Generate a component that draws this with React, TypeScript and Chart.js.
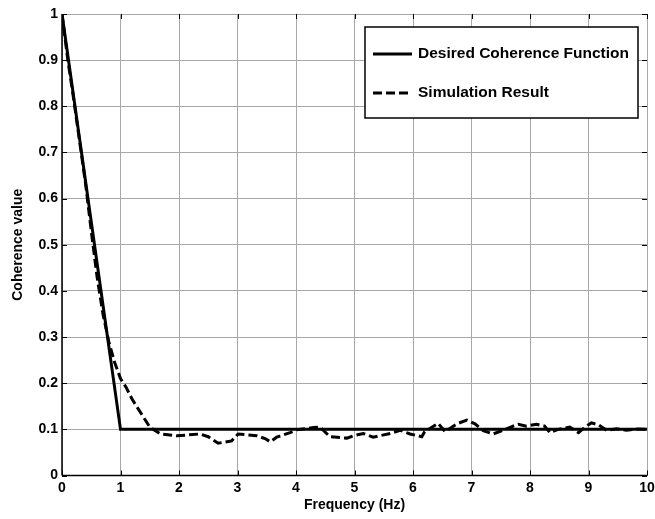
import React, { useEffect, useRef } from "react";
import { Chart, registerables } from "chart.js";

Chart.register(...registerables);

const desiredX = [0, 1, 10];
const desiredY = [1, 0.1, 0.1];

const simX = [0, 0.1, 0.2, 0.3, 0.4, 0.5, 0.6, 0.7, 0.8, 0.9, 1.0, 1.1, 1.2, 1.3, 1.4, 1.5, 1.68, 1.96, 2.36, 2.5, 2.67, 2.9, 3.01, 3.33, 3.47, 3.56, 3.67, 3.9, 4.01, 4.3, 4.41, 4.58, 4.87, 4.98, 5.15, 5.32, 5.61, 5.78, 5.95, 6.15, 6.2, 6.43, 6.55, 6.75, 6.92, 7.06, 7.2, 7.37, 7.54, 7.71, 7.8, 7.94, 8.11, 8.25, 8.34, 8.48, 8.68, 8.83, 8.94, 9.05, 9.17, 9.31, 9.48, 9.65, 9.82, 10];
const simY = [1, 0.9, 0.815, 0.725, 0.635, 0.53, 0.43, 0.35, 0.29, 0.245, 0.21, 0.19, 0.165, 0.145, 0.125, 0.105, 0.09, 0.086, 0.09, 0.084, 0.07, 0.075, 0.09, 0.086, 0.08, 0.073, 0.083, 0.093, 0.099, 0.104, 0.105, 0.084, 0.081, 0.086, 0.091, 0.083, 0.091, 0.098, 0.09, 0.084, 0.095, 0.113, 0.095, 0.112, 0.12, 0.112, 0.097, 0.09, 0.098, 0.107, 0.111, 0.107, 0.111, 0.107, 0.093, 0.1, 0.105, 0.093, 0.105, 0.114, 0.11, 0.098, 0.101, 0.098, 0.101, 0.1];

const seriesLabels = ["Desired Coherence Function", "Simulation Result"];
const xTitle = "Frequency (Hz)";
const yTitle = "Coherence value";

const FONT = "'Liberation Sans', Arial, sans-serif";

const boxPlugin = {
  id: "boxAndTicks",
  afterDatasetsDraw(chart: any) {
    const { ctx, chartArea: a, scales } = chart;
    ctx.save();
    ctx.strokeStyle = "#000";
    ctx.lineWidth = 1;
    ctx.beginPath();
    const xs = scales.x, ys = scales.y;
    for (let v = 0; v <= 10; v++) {
      const px = Math.round(xs.getPixelForValue(v)) + 0.5;
      ctx.moveTo(px, a.bottom); ctx.lineTo(px, a.bottom - 5);
      ctx.moveTo(px, a.top); ctx.lineTo(px, a.top + 5);
    }
    for (let i = 0; i <= 10; i++) {
      const py = Math.round(ys.getPixelForValue(i / 10)) + 0.5;
      ctx.moveTo(a.left, py); ctx.lineTo(a.left + 5, py);
      ctx.moveTo(a.right, py); ctx.lineTo(a.right - 5, py);
    }
    ctx.stroke();
    ctx.lineWidth = 1.5;
    ctx.beginPath();
    ctx.moveTo(a.left, a.bottom);
    ctx.lineTo(a.right, a.bottom);
    ctx.moveTo(a.left, a.bottom);
    ctx.lineTo(a.left, a.top);
    ctx.stroke();
    ctx.restore();
  },
  afterDraw(chart: any) {
    const { ctx } = chart;
    ctx.save();
    const L = 365, T = 27, R = 638, B = 118;
    ctx.fillStyle = "#fff";
    ctx.fillRect(L, T, R - L, B - T);
    ctx.strokeStyle = "#000";
    ctx.lineWidth = 1.5;
    ctx.strokeRect(L, T, R - L, B - T);
    ctx.lineWidth = 3;
    ctx.beginPath();
    ctx.moveTo(373, 54); ctx.lineTo(412, 54);
    ctx.stroke();
    ctx.setLineDash([9, 4]);
    ctx.beginPath();
    ctx.moveTo(373, 93); ctx.lineTo(412, 93);
    ctx.stroke();
    ctx.setLineDash([]);
    ctx.fillStyle = "#000";
    ctx.font = `bold 15.5px ${FONT}`;
    ctx.textBaseline = "middle";
    ctx.textAlign = "left";
    ctx.fillText(seriesLabels[0], 418, 54);
    ctx.fillText(seriesLabels[1], 418, 93);
    ctx.restore();
  },
};

export default function App() {
  const ref = useRef<HTMLCanvasElement>(null);
  useEffect(() => {
    if (!ref.current) return;
    const chart = new Chart(ref.current, {
      type: "scatter",
      data: {
        datasets: [
          {
            label: seriesLabels[0],
            data: desiredX.map((x, i) => ({ x, y: desiredY[i] })),
            showLine: true,
            borderColor: "#000",
            borderWidth: 3,
            pointRadius: 0,
            fill: false,
          },
          {
            label: seriesLabels[1],
            data: simX.map((x, i) => ({ x, y: simY[i] })),
            showLine: true,
            borderColor: "#000",
            borderWidth: 3,
            borderDash: [9, 4],
            pointRadius: 0,
            fill: false,
          },
        ],
      },
      options: {
        animation: false,
        responsive: false,
        maintainAspectRatio: false,
        layout: { padding: { left: 0, top: 14, right: 8, bottom: 0 } },
        plugins: { legend: { display: false }, tooltip: { enabled: false } },
        scales: {
          x: {
            type: "linear",
            min: 0,
            max: 10,
            ticks: { stepSize: 1, color: "#000", font: { family: FONT, size: 14, weight: "bold" }, padding: 4, maxRotation: 0 },
            grid: { color: "#a8a8a8", lineWidth: 1, drawTicks: false },
            border: { display: false },
            title: { display: true, text: xTitle, color: "#000", font: { family: FONT, size: 14, weight: "bold" }, padding: { top: 0, bottom: 5 } },
            afterFit: (s: any) => { s.height = 43.5; s.paddingLeft = 0; s.paddingRight = 0; },
          },
          y: {
            type: "linear",
            min: 0,
            max: 1,
            ticks: { stepSize: 0.1, color: "#000", font: { family: FONT, size: 14, weight: "bold" }, padding: 4, callback: (v: any) => String(Math.round(v * 10) / 10) },
            grid: { color: "#a8a8a8", lineWidth: 1, drawTicks: false },
            border: { display: false },
            title: { display: true, text: yTitle, color: "#000", font: { family: FONT, size: 14, weight: "bold" }, padding: { top: 10, bottom: 0 } },
            afterFit: (s: any) => { s.width = 62; s.paddingTop = 0; s.paddingBottom = 0; },
          },
        },
      },
      plugins: [boxPlugin],
    });
    return () => chart.destroy();
  }, []);
  return (
    <div style={{ position: "fixed", left: 0, top: 0, width: 655, height: 519, background: "#fff" }}>
      <canvas ref={ref} width={655} height={519} />
    </div>
  );
}
